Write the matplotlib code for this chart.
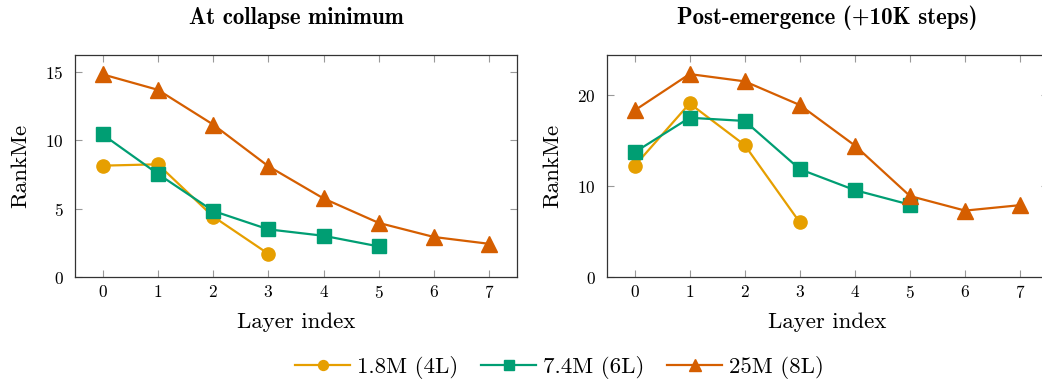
import matplotlib.pyplot as plt

plt.rcParams['font.family'] = 'serif'
plt.rcParams['font.serif'] = ['cmr10', 'DejaVu Serif']
plt.rcParams['mathtext.fontset'] = 'cm'
plt.rcParams['axes.formatter.use_mathtext'] = True

layers = list(range(8))
labels = ['1.8M (4L)', '7.4M (6L)', '25M (8L)']
colors = ['#E69F00', '#009E73', '#D55E00']
markers = ['o', 's', '^']

# At collapse minimum
collapse_small = [8.15, 8.25, 4.43, 1.70]
collapse_mid = [10.43, 7.55, 4.84, 3.49, 3.02, 2.24]
collapse_large = [14.83, 13.70, 11.16, 8.11, 5.75, 3.96, 2.93, 2.43]

# Post-emergence (+10K steps)
post_small = [12.2, 19.07, 14.5, 6.0]
post_mid = [13.7, 17.5, 17.15, 11.85, 9.55, 7.95]
post_large = [18.3, 22.3, 21.5, 18.9, 14.45, 8.9, 7.3, 7.9]

fig = plt.figure(figsize=(10.42, 3.79), dpi=100)
ax1 = fig.add_axes([0.072, 0.269, 0.424, 0.586])
ax2 = fig.add_axes([0.5825, 0.269, 0.423, 0.586])

panels = [
    (ax1, 'At collapse minimum', [collapse_small, collapse_mid, collapse_large], 16.25, [0, 5, 10, 15]),
    (ax2, 'Post-emergence (+10K steps)', [post_small, post_mid, post_large], 24.4, [0, 10, 20]),
]

for ax, title, series, ytop, yticks in panels:
    for vals, lab, c, m in zip(series, labels, colors, markers):
        ms = 11 if m == '^' else 9.5
        ax.plot(layers[:len(vals)], vals, color=c, marker=m, markersize=ms,
                linewidth=1.6, label=lab, clip_on=False, zorder=3)
    ax.set_xlim(-0.5, 7.5)
    ax.set_ylim(0, ytop)
    ax.set_xticks(layers)
    ax.set_yticks(yticks)
    ax.tick_params(direction='in', length=5, color='#999999', width=0.8,
                   top=True, right=True, labelsize=12.5, pad=5)
    ax.tick_params(axis='y', pad=8)
    for sp in ax.spines.values():
        sp.set_linewidth(0.9)
        sp.set_color('#333333')
    ax.set_title(title, fontfamily='cmb10', fontsize=16.5, pad=22)
    ax.set_xlabel('Layer index', fontsize=16.5, labelpad=8)
    ax.set_ylabel('RankMe', fontsize=16.5, labelpad=11)

handles, labs = ax1.get_legend_handles_labels()
fig.legend(handles, labs, loc='center', bbox_to_anchor=(0.537, 0.03), ncol=3,
           frameon=False, fontsize=16.5, handlelength=2.4, columnspacing=1.0,
           handletextpad=0.3, markerscale=0.75)

fig.savefig('out.png', dpi=100)
